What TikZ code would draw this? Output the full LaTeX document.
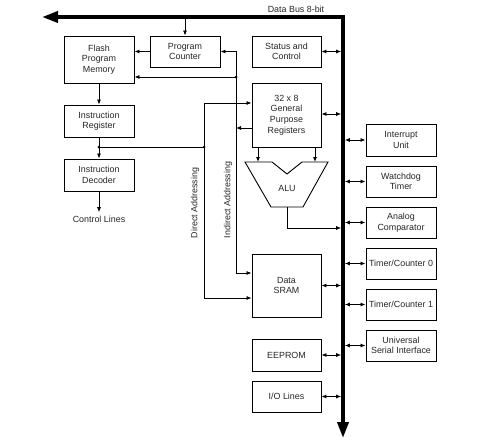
\documentclass[tikz,border=0pt]{standalone}
\usepackage{fontspec}
\setmainfont{Liberation Sans}
\usetikzlibrary{arrows.meta}
\begin{document}
\begin{tikzpicture}[x=1pt,y=-1pt,
  font=\fontsize{8.9}{10.6}\selectfont,
  text=black!85,
  box/.style={draw, line width=0.9pt, align=center, inner sep=0pt, minimum width=70pt},
  arr/.style={line width=0.8pt, -{Latex[length=5pt,width=4pt]}},
  bid/.style={line width=0.8pt, {Latex[length=5pt,width=4pt]}-{Latex[length=5pt,width=4pt]}},
  ln/.style={line width=0.8pt},
  bus/.style={line width=3.6pt, line join=miter, {Triangle[length=16pt,width=11pt]}-{Triangle[length=16pt,width=11pt]}},
  dot/.style={circle, fill, inner sep=0pt, minimum size=3pt}]
\useasboundingbox (0,0) rectangle (491,447);

% bus
\coordinate (busL) at (42,17);
\coordinate (busC) at (343,17);
\coordinate (busB) at (343,438);
\draw[bus] (busL) -- (busC) -- (busB);
\node (dbl) at (296,9) {Data Bus 8-bit};

% left column
\node[box, minimum height=47pt] (flash) at (99,59.5) {Flash\\Program\\Memory};
\node[box, minimum height=31pt] (pc) at (185,51.5) {Program\\Counter};
\node[box, minimum height=32pt] (ir) at (99,121) {Instruction\\Register};
\node[box, minimum height=32pt] (dec) at (99,175) {Instruction\\Decoder};
\node (ctl) at (99,219) {Control Lines};

% middle column
\node[box, minimum width=69pt, minimum height=31pt] (stat) at (286.5,51.5) {Status and\\Control};
\node[box, minimum width=69pt, minimum height=64pt] (reg) at (286.5,115) {32 x 8\\General\\Purpose\\Registers};
\node[box, minimum width=69pt, minimum height=63pt] (sram) at (286.5,285.5) {Data\\SRAM};
\node[box, minimum width=69pt, minimum height=32pt] (eep) at (286.5,355) {EEPROM};
\node[box, minimum width=69pt, minimum height=31pt] (io) at (286.5,396.5) {I/O Lines};

% ALU
\draw[line width=0.9pt] (245,162) -- (272,162) -- (287,174) -- (302,162) -- (328,162)
  -- (303,207) -- (271,207) -- cycle;
\node (alu) at (287,188) {ALU};
\coordinate (aluA) at (258,162);
\coordinate (aluB) at (315,162);
\coordinate (aluO) at (287,207);

% right column
\node[box, minimum height=32pt] (irq) at (401,140) {Interrupt\\Unit};
\node[box, minimum height=31pt] (wdt) at (401,181.5) {Watchdog\\Timer};
\node[box, minimum height=31pt] (acmp) at (401,222.5) {Analog\\Comparator};
\node[box, minimum height=31pt] (tc0) at (401,263.5) {Timer/Counter 0};
\node[box, minimum height=31pt] (tc1) at (401,304.5) {Timer/Counter 1};
\node[box, minimum height=31pt] (usi) at (401,345.5) {Universal\\Serial Interface};

% bus taps
\coordinate (bpc) at (185,17);
\draw[arr] (bpc) -- (pc.north);
\draw[arr] (pc.west) -- (flash.east |- pc.west);

% vertical flow
\draw[arr] (flash.south) -- (ir.north);
\draw[arr] (ir.south) -- (dec.north);
\draw[arr] (dec.south) -- (ctl.north);

% direct addressing
\coordinate (irJ) at (99,147);
\coordinate (dirJ) at (204,147);
\node[dot] at (irJ) {};
\node[dot] at (dirJ) {};
\draw[ln] (irJ) -- (dirJ);
\draw[arr] (dirJ) |- (reg.west |- 0,103);
\draw[arr] (dirJ) |- (sram.west |- 0,298);
\node[rotate=90] (dtxt) at (195,203) {Direct Addressing};

% indirect addressing
\coordinate (indJ) at (236,128);
\coordinate (indF) at (236,77);
\draw[arr] (reg.west |- indJ) -- (indJ);
\draw[arr] (indJ) |- (pc.east);
\draw[arr] (indJ) |- (sram.west |- 0,273);
\node[dot] at (indF) {};
\draw[arr] (indF) -- (flash.east |- indF);
\node[rotate=90] (itxt) at (228,200) {Indirect Addressing};

% registers to ALU
\draw[arr] (reg.south -| aluA) -- (aluA);
\draw[arr] (reg.south -| aluB) -- (aluB);
\coordinate (aluBus) at (341.2,228);
\draw[arr] (aluO) |- (aluBus);

% bidirectional to bus (left side)
\draw[bid] (stat.east) -- (341.2,51.5);
\draw[bid] (reg.east |- 0,114) -- (341.2,114);
\draw[bid] (sram.east) -- (341.2,285.5);
\draw[bid] (eep.east) -- (341.2,355);
\draw[bid] (io.east) -- (341.2,396.5);

% bidirectional to bus (right side)
\foreach \n in {irq,wdt,acmp,tc0,tc1,usi}{
  \draw[bid] (344.8,0 |- \n.west) -- (\n.west);
}
\end{tikzpicture}
\end{document}
